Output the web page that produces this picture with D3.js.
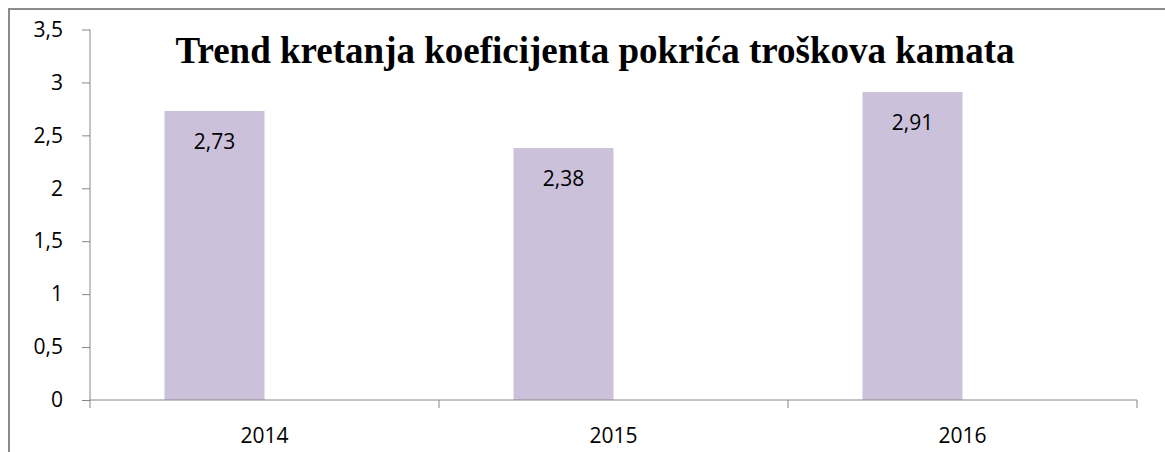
<!DOCTYPE html>
<html>
<head>
<meta charset="utf-8">
<script src="https://cdn.jsdelivr.net/npm/d3@7"></script>
<style>
  body { margin: 0; background: #fff; }
  svg { display: block; }
</style>
</head>
<body>
<script>
const years = ["2014", "2015", "2016"]
const coefValues = [2.73, 2.38, 2.91]
const yTicks = [0, 0.5, 1, 1.5, 2, 2.5, 3, 3.5]
const seriesNames = ["koeficijent", "prazno"]   // second series is empty, which pushes the bars left
const titleText = "Trend kretanja koeficijenta pokrića troškova kamata"

const width = 1165
const height = 452
const margin = ({top: 29.5, right: 28, bottom: 52, left: 90})
const labelFont = "'Open Sans', sans-serif"
const labelSize = 21

const fmt = v => String(v).replace(".", ",")

const svg = d3.select("body").append("svg")
    .attr("width", width)
    .attr("height", height)

// chart area border (runs off right/bottom edge)
svg.append("rect")
    .attr("x", 9)
    .attr("y", 9)
    .attr("width", width + 20)
    .attr("height", height + 20)
    .attr("fill", "white")
    .attr("stroke", "#8c8c8c")
    .attr("stroke-width", 2)

const x = d3.scaleBand()
    .domain(years)
    .range([margin.left, width - margin.right])

const xs = d3.scaleBand()
    .domain(seriesNames)
    .range([0, x.bandwidth()])
    .paddingOuter(0.745)

const y = d3.scaleLinear()
    .domain([0, 3.5])
    .range([height - margin.bottom, margin.top])

const data = years.map((yr, i) => ({year: yr, value: coefValues[i]}))

svg.append("g")
    .selectAll("rect")
    .data(data)
    .join("rect")
    .attr("x", d => x(d.year) + xs(seriesNames[0]))
    .attr("y", d => y(d.value))
    .attr("width", xs.bandwidth())
    .attr("height", d => y(0) - y(d.value))
    .attr("fill", "#ccc1da")

// y axis
const yAxis = svg.append("g")
    .attr("transform", `translate(${margin.left},0)`)
    .call(d3.axisLeft(y).tickValues(yTicks).tickFormat(fmt).tickSize(8).tickPadding(19))
yAxis.select(".domain").attr("stroke", "#868686").attr("d", `M0,${y(3.5)}V${y(0)}`)
yAxis.selectAll(".tick line").attr("stroke", "#868686")
yAxis.selectAll(".tick text")
    .attr("font-family", labelFont)
    .attr("font-size", labelSize)
    .attr("fill", "#000")

// x axis, ticks at category boundaries
const xAxis = svg.append("g")
    .attr("transform", `translate(0,${y(0)})`)
xAxis.append("path")
    .attr("d", `M${margin.left},0H${width - margin.right}`)
    .attr("stroke", "#868686")
    .attr("fill", "none")
const bounds = years.map(d => x(d)).concat([x(years[years.length - 1]) + x.bandwidth()])
xAxis.selectAll("line")
    .data(bounds)
    .join("line")
    .attr("x1", d => d).attr("x2", d => d)
    .attr("y1", 0).attr("y2", 8)
    .attr("stroke", "#868686")
xAxis.selectAll("text")
    .data(years)
    .join("text")
    .attr("x", d => x(d) + x.bandwidth() / 2)
    .attr("y", 43)
    .attr("text-anchor", "middle")
    .attr("font-family", labelFont)
    .attr("font-size", labelSize)
    .text(d => d)

// value labels inside bar tops
svg.append("g")
    .selectAll("text")
    .data(data)
    .join("text")
    .attr("x", d => x(d.year) + xs(seriesNames[0]) + xs.bandwidth() / 2)
    .attr("y", d => y(d.value) + 38)
    .attr("text-anchor", "middle")
    .attr("font-family", labelFont)
    .attr("font-size", labelSize)
    .text(d => fmt(d.value))

svg.append("text")
    .attr("x", 595)
    .attr("y", 63)
    .attr("text-anchor", "middle")
    .attr("font-family", "'Liberation Serif', 'Times New Roman', serif")
    .attr("font-weight", "bold")
    .attr("font-size", 37)
    .text(titleText)
</script>
</body>
</html>
